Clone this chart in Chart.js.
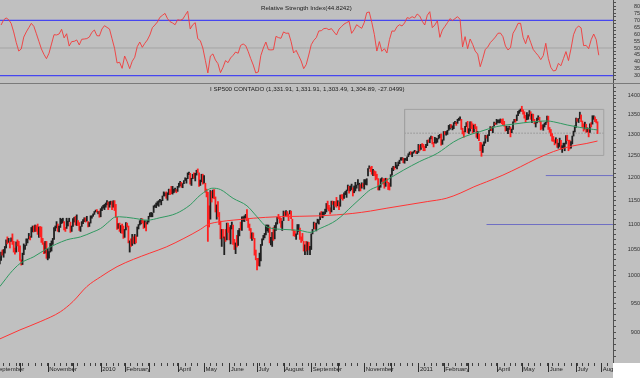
<!DOCTYPE html>
<html>
<head>
<meta charset="utf-8">
<script src="https://cdn.jsdelivr.net/npm/chart.js@4.4.1/dist/chart.umd.min.js"></script>
<style>
html,body{margin:0;padding:0;background:#c0c0c0;}
#wrap{position:relative;width:640px;height:378px;background:#c0c0c0;overflow:hidden;font-family:"Liberation Sans",Arial,sans-serif;}
canvas{position:absolute;left:0;}
#rsi{top:0;}
#sep{position:absolute;left:0;top:83px;width:640px;height:1px;background:#7a7a7a;}
#price{top:84px;}
#corner{position:absolute;left:613px;top:363px;width:27px;height:15px;background:#ffffff;}
.t{position:absolute;font-size:6.2px;line-height:6.2px;color:#202020;white-space:nowrap;}
</style>
</head>
<body>
<div id="wrap">
  <canvas id="rsi" width="640" height="83"></canvas>
  <div id="sep"></div>
  <canvas id="price" width="640" height="294"></canvas>
  <div id="corner"></div>
  <div class="t" style="left:261px;top:5.2px">Relative Strength Index(44.8242)</div>
  <div class="t" style="left:210px;top:86.4px">I SP500 CONTADO (1,331.91, 1,331.91, 1,303.49, 1,304.89, -27.0499)</div>
</div>
<script>
// ---------- trading calendar (day index 0 = 1 Sep 2009) ----------
const holidays = ['2009-09-07','2009-11-26','2009-12-25','2010-01-01','2010-01-18','2010-02-15','2010-04-02',
  '2010-05-31','2010-07-05','2010-09-06','2010-11-25','2010-12-24','2011-01-17','2011-02-21','2011-04-22',
  '2011-05-30','2011-07-04'];
const calendarStart = '2009-09-01';
const calendarEnd = '2011-08-15';

// month axis labels (January shows the year, some months unlabeled)
const monthNames = ['', 'February', '', 'April', 'May', 'June', 'July', 'August', 'September', '', 'November', ''];

// ---------- daily S&P 500 bars ----------
const closes = [
998,995,1003,1016,1025,1033,1044,1043,1049,1053,1069,1065,1068,1065,1072,1061,1051,1044,1063,1061,1057,
1030,1025,1040,1055,1058,1065,1071,1076,1073,1092,1097,1088,1098,1091,1081,1093,1080,1067,1063,1043,1066,1036,
1043,1045,1047,1067,1069,1093,1093,1099,1087,1093,1109,1110,1110,1095,1091,1106,1106,1111,1091,1096,
1109,1109,1100,1106,1103,1092,1096,1102,1106,1114,1108,1109,1096,1102,1114,1118,1121,1126,1128,1126,1126,1115,
1133,1137,1137,1142,1145,1147,1136,1146,1148,1136,1150,1138,1116,1092,1097,1092,1098,1085,1074,
1089,1103,1097,1063,1066,1057,1071,1068,1078,1076,1095,1100,1107,1109,1108,1095,1105,1103,1104,
1116,1118,1119,1123,1139,1139,1140,1146,1150,1150,1151,1159,1166,1166,1160,1166,1174,1168,1166,1167,1173,1173,1169,
1178,1187,1189,1182,1186,1194,1196,1197,1211,1212,1192,1198,1207,1206,1209,1217,1212,1184,1191,1207,1187,
1202,1174,1166,1128,1111,1160,1156,1172,1157,1136,1137,1121,1115,1072,1088,1074,1074,1068,1103,1089,
1071,1098,1103,1065,1050,1062,1056,1087,1092,1090,1115,1115,1116,1118,1113,1095,1092,1074,1077,1075,1041,1031,
1027,1023,1028,1060,1070,1078,1079,1095,1095,1096,1065,1071,1083,1070,1094,1103,1115,1114,1106,1102,1102,
1126,1120,1127,1126,1122,1128,1121,1089,1084,1079,1079,1093,1094,1076,1072,1067,1052,1055,1047,1065,1049,1049,
1080,1090,1105,1092,1099,1104,1110,1122,1121,1125,1125,1126,1143,1140,1134,1125,1149,1142,1148,1145,1141,
1146,1137,1161,1160,1158,1165,1165,1170,1178,1174,1176,1185,1166,1178,1180,1183,1186,1186,1182,1184,1183,
1184,1194,1198,1221,1226,1223,1213,1219,1214,1199,1198,1178,1179,1197,1200,1198,1181,1198,1189,1188,1181,
1206,1222,1225,1223,1224,1228,1233,1240,1240,1242,1235,1243,1244,1247,1255,1259,1257,1258,1259,1260,1258,1258,
1272,1270,1277,1274,1272,1270,1274,1286,1284,1293,1295,1282,1280,1283,1291,1291,1297,1300,1276,1286,
1308,1304,1307,1311,1319,1325,1321,1322,1329,1332,1328,1336,1340,1343,1315,1307,1306,1320,1327,
1306,1308,1331,1321,1310,1322,1320,1295,1304,1296,1282,1257,1274,1279,1298,1294,1298,1310,1314,1310,1319,1328,1326,
1332,1333,1333,1336,1334,1328,1324,1314,1314,1315,1320,1305,1313,1330,1337,1335,1347,1356,1360,1364,
1361,1357,1347,1335,1340,1346,1357,1342,1349,1338,1329,1329,1341,1344,1333,1317,1316,1320,1326,1331,1345,
1315,1313,1300,1286,1285,1280,1289,1271,1272,1288,1265,1268,1272,1278,1296,1287,1284,1268,1280,1297,1307,1321,
1340,1338,1339,1353,1344,1319,1314,1318,1309,1316,1305,1327,1326,1344,1345,1337,1332,1305];

const highs = [
1029,1003,1004,1018,1026,1036,1045,1049,1050,1056,1069,1075,1072,1066,1073,1081,1066,1053,1065,1069,1066,
1057,1030,1043,1061,1058,1071,1071,1082,1076,1094,1097,1097,1099,1098,1101,1095,1096,1095,1072,1063,1066,1066,
1052,1046,1062,1067,1072,1094,1097,1106,1101,1097,1113,1111,1113,1106,1094,1113,1107,1113,1105,1097,
1112,1115,1117,1120,1108,1104,1096,1106,1110,1114,1114,1117,1106,1104,1118,1118,1122,1127,1130,1131,1127,1128,
1133,1137,1140,1142,1145,1150,1147,1148,1149,1148,1150,1150,1142,1115,1102,1103,1098,1101,1097,
1090,1104,1103,1097,1067,1071,1080,1075,1080,1077,1095,1100,1108,1112,1112,1108,1108,1104,1108,
1117,1124,1125,1124,1139,1141,1145,1148,1150,1153,1151,1160,1169,1167,1169,1167,1175,1174,1181,1181,1175,1177,1174,
1181,1188,1192,1190,1187,1194,1200,1199,1211,1213,1210,1199,1208,1211,1210,1217,1220,1211,1195,1208,1208,
1205,1188,1175,1168,1139,1172,1170,1173,1174,1158,1141,1148,1125,1107,1090,1090,1075,1090,1103,1103,
1094,1098,1105,1099,1070,1063,1078,1088,1092,1105,1116,1116,1118,1121,1131,1113,1101,1092,1083,1083,1072,1049,
1033,1033,1043,1060,1071,1078,1082,1099,1099,1099,1095,1074,1084,1094,1098,1104,1115,1121,1116,1113,1107,
1128,1126,1129,1127,1122,1129,1128,1111,1089,1087,1081,1100,1100,1093,1075,1082,1066,1059,1066,1065,1064,1056,
1081,1090,1105,1103,1103,1111,1110,1124,1127,1126,1126,1132,1144,1149,1140,1135,1149,1149,1148,1148,1157,
1150,1147,1162,1163,1163,1167,1170,1173,1184,1181,1182,1186,1178,1182,1190,1184,1196,1188,1185,1189,1187,
1196,1196,1198,1221,1227,1224,1226,1219,1216,1214,1208,1198,1183,1198,1200,1198,1198,1199,1198,1190,1188,
1207,1222,1226,1225,1235,1229,1236,1240,1246,1246,1245,1244,1244,1248,1255,1259,1260,1258,1260,1263,1261,1260,
1277,1275,1277,1279,1277,1272,1277,1287,1288,1293,1297,1296,1282,1294,1292,1291,1299,1301,1302,1288,
1308,1308,1308,1311,1323,1325,1325,1322,1330,1333,1331,1338,1341,1344,1338,1316,1309,1321,1330,
1333,1315,1332,1332,1327,1324,1326,1320,1308,1302,1282,1281,1276,1283,1299,1298,1300,1311,1320,1319,1320,1331,1329,
1338,1336,1337,1339,1338,1339,1333,1321,1321,1316,1321,1319,1314,1332,1338,1338,1349,1358,1361,1364,
1371,1362,1357,1348,1355,1350,1360,1357,1351,1351,1338,1330,1341,1347,1343,1333,1324,1325,1329,1331,1346,
1346,1318,1313,1303,1296,1288,1293,1289,1280,1292,1287,1274,1280,1280,1298,1299,1287,1287,1284,1297,1309,1322,
1341,1340,1340,1356,1349,1334,1327,1331,1326,1317,1316,1327,1330,1347,1347,1344,1338,1332];

const lows = [
996,992,993,1001,1018,1022,1029,1039,1035,1043,1053,1061,1064,1053,1066,1060,1045,1041,1045,1057,1046,
1029,1020,1021,1040,1050,1058,1063,1071,1069,1074,1085,1085,1086,1086,1080,1074,1075,1064,1060,1042,1043,1033,
1030,1033,1045,1047,1060,1070,1087,1093,1086,1085,1094,1102,1104,1089,1086,1092,1097,1106,1084,1086,
1096,1105,1099,1098,1098,1088,1086,1096,1102,1106,1105,1107,1095,1096,1103,1113,1117,1121,1126,1126,1122,1115,
1116,1129,1134,1131,1136,1141,1131,1136,1142,1131,1136,1129,1115,1090,1092,1086,1083,1082,1072,
1074,1089,1095,1063,1045,1056,1058,1062,1061,1063,1076,1091,1099,1101,1103,1092,1094,1087,1101,
1105,1116,1116,1116,1125,1136,1135,1140,1138,1147,1141,1150,1160,1160,1155,1151,1163,1163,1165,1164,1167,1170,1167,
1170,1179,1182,1179,1178,1187,1194,1188,1198,1207,1186,1183,1198,1199,1193,1206,1212,1181,1183,1191,1186,
1188,1168,1158,1066,1095,1111,1147,1156,1154,1126,1111,1116,1100,1071,1056,1073,1040,1066,1069,1084,
1069,1061,1091,1060,1050,1042,1055,1058,1077,1089,1088,1107,1106,1113,1108,1094,1088,1072,1068,1071,1039,1030,
1011,1019,1018,1028,1058,1069,1073,1079,1087,1084,1063,1059,1056,1068,1071,1088,1101,1112,1103,1094,1088,
1108,1117,1119,1116,1108,1122,1112,1088,1077,1076,1070,1080,1086,1070,1064,1067,1047,1040,1047,1040,1049,1040,
1050,1081,1091,1091,1087,1103,1101,1110,1115,1114,1118,1122,1126,1132,1128,1122,1126,1142,1131,1138,1136,
1139,1131,1138,1154,1151,1155,1163,1157,1172,1166,1171,1174,1160,1167,1171,1177,1184,1171,1171,1177,1180,
1175,1185,1184,1204,1221,1214,1208,1205,1205,1195,1197,1173,1173,1179,1192,1186,1177,1181,1189,1174,1173,
1181,1206,1216,1219,1223,1220,1227,1232,1240,1240,1234,1233,1240,1239,1248,1253,1254,1248,1256,1259,1256,1255,
1258,1262,1265,1270,1262,1262,1269,1274,1282,1281,1290,1278,1271,1280,1280,1282,1290,1293,1275,1277,
1287,1301,1299,1301,1311,1314,1317,1312,1315,1327,1323,1328,1335,1336,1313,1302,1294,1307,1320,
1305,1303,1309,1315,1304,1307,1315,1294,1291,1286,1262,1249,1258,1274,1280,1292,1284,1298,1310,1310,1305,1321,1325,
1326,1330,1329,1330,1327,1325,1321,1309,1310,1303,1313,1295,1305,1313,1331,1331,1335,1347,1353,1358,
1358,1351,1341,1330,1337,1338,1346,1338,1330,1335,1327,1319,1329,1337,1331,1312,1315,1311,1319,1325,1331,
1313,1306,1297,1285,1284,1276,1280,1270,1268,1272,1265,1258,1268,1262,1278,1286,1262,1266,1268,1278,1297,1307,
1318,1333,1330,1340,1332,1318,1309,1314,1306,1307,1295,1306,1319,1326,1338,1332,1329,1303];

const sma50Days   = [5,10,13,21,32,42,58,69,79,85,92,96,100,111,122,132,145,156,164,174,180,190,201,209,217,230,243,251,259,272,285,293,299,304,312,325,338,352,365,373,386,399,412,428,439,444,455,465,476,479];
const sma50Values = [980,995,1004,1023,1036,1051,1069,1075,1085,1092,1107,1115,1116,1113,1109,1114,1123,1141,1162,1177,1174,1155,1139,1116,1095,1090,1088,1084,1092,1109,1140,1160,1174,1180,1195,1217,1237,1256,1283,1295,1308,1320,1326,1332,1334,1332,1324,1318,1313,1312];
const sma200Days   = [5,21,37,53,63,74,85,98,111,124,137,151,164,170,180,190,206,225,243,259,272,285,299,312,328,344,359,370,381,391,404,418,431,444,457,470,479];
const sma200Values = [889,904,918,935,953,980,998,1017,1031,1043,1055,1072,1090,1100,1106,1109,1113,1116,1117,1118,1120,1123,1128,1134,1141,1148,1155,1166,1180,1191,1206,1225,1244,1260,1272,1279,1285];

// ---------- RSI (one reading every 2 trading days, first at day 6) ----------
const rsiFirstDay = 6;
const rsiStep = 2;
const rsiValues = [
66.6,70.2,71.7,70.5,67.7,61.6,54.1,47.8,49.3,57.9,61.6,64.7,67.8,65.6,60.3,54.8,49.3,45.4,42.3,46.2,
52.9,59.6,59.4,60.1,63.5,57.3,60.3,51.4,54.6,54.8,55.8,52.2,56.3,56.5,56.8,57.9,61.3,63.0,58.9,58.7,
63.7,66.1,64.9,63.7,56.7,49.8,39.2,39.7,35.3,44.2,40.1,35.1,40.4,43.3,51.0,54.3,50.5,53.4,55.8,59.4,
64.7,66.6,68.8,72.2,73.6,75.0,71.2,69.0,68.1,66.8,70.4,70.0,70.7,73.6,76.5,63.7,66.8,68.3,56.7,55.3,
50.0,41.1,32.0,44.2,45.7,41.3,38.7,32.2,36.0,40.9,39.4,42.8,44.7,47.1,46.2,51.9,52.9,51.7,47.4,42.3,
37.7,32.0,32.7,44.5,50.0,54.3,48.8,48.6,48.8,58.4,57.5,57.0,61.6,60.6,60.8,54.6,46.4,48.3,44.5,40.6,
35.1,38.0,44.9,52.4,55.5,57.5,62.3,62.5,64.0,64.2,63.2,64.0,61.6,59.4,63.7,65.4,67.3,68.3,69.3,60.6,
63.2,66.8,65.4,64.2,68.3,75.5,76.0,68.5,59.9,47.8,54.6,47.6,49.5,46.4,56.0,62.3,62.1,65.4,66.8,65.9,
68.1,71.9,71.4,72.6,71.7,74.5,73.1,69.3,66.6,73.6,76.2,64.7,66.6,69.7,57.7,63.0,65.6,68.3,71.2,69.8,
71.2,72.6,70.7,50.7,58.2,49.5,56.5,52.6,47.8,45.6,36.5,42.3,49.0,50.7,53.9,55.8,57.9,60.6,60.8,58.2,
51.4,48.6,50.2,60.6,63.7,67.8,67.8,57.7,53.1,59.2,54.1,49.0,46.6,44.5,41.6,44.5,53.4,42.5,36.0,33.4,
33.9,38.9,37.2,42.3,47.4,40.9,49.5,59.6,64.0,65.9,64.5,51.7,51.9,49.5,56.0,60.1,56.0,44.8];
const rsiLevels = [70, 50, 30];

// ---------- axis tick labels ----------
const priceTickLabels = [900, 950, 1000, 1050, 1100, 1150, 1200, 1250, 1300, 1350, 1400];
const rsiTickLabels = [30, 35, 40, 45, 50, 55, 60, 65, 70, 75, 80];

// ---------- drawn reference lines ----------
const boxDays = [326, 484];
const boxLevels = [1251, 1363];
const boxMidLevel = 1304;
const supportLevels = [1205, 1100];
const supportFromDays = [438, 391];

// ---------- axis range ----------
const X_MIN = 5.15, X_MAX = 491.3;

// ================= build =================
Chart.defaults.font.family = "'Liberation Sans', Arial, sans-serif";
Chart.defaults.animation = false;

function buildCalendar() {
  const out = [];
  const d = new Date(calendarStart + 'T12:00:00Z');
  const end = new Date(calendarEnd + 'T12:00:00Z');
  while (d <= end) {
    const wd = d.getUTCDay();
    const iso = d.toISOString().slice(0, 10);
    if (wd !== 0 && wd !== 6 && !holidays.includes(iso)) {
      out.push({ year: d.getUTCFullYear(), month: d.getUTCMonth(), wd });
    }
    d.setUTCDate(d.getUTCDate() + 1);
  }
  return out;
}
const cal = buildCalendar();
const monthStarts = [];
const weekStarts = [];
cal.forEach((c, i) => {
  if (i === 0 || c.month !== cal[i - 1].month) monthStarts.push(i);
  if (i === 0 || c.wd < cal[i - 1].wd) weekStarts.push(i);
});
const monthLabelOf = {};
monthStarts.forEach(i => {
  const c = cal[i];
  monthLabelOf[i] = c.month === 0 ? String(c.year) : monthNames[c.month];
});
const xTickValues = Array.from(new Set([...weekStarts, ...monthStarts]))
  .filter(v => v <= X_MAX).sort((a, b) => a - b);

const pairs = (xs, ys) => xs.map((x, i) => ({ x, y: ys[i] }));

// --- RSI chart ---
const rsiPoints = rsiValues.map((v, i) => ({ x: rsiFirstDay + i * rsiStep, y: v }));
const rsiMinor = [];
for (let v = 27.5; v <= 82.5; v += 2.5) rsiMinor.push(v);

new Chart(document.getElementById('rsi'), {
  type: 'line',
  data: {
    datasets: [
      { data: rsiPoints, borderColor: '#f23a3a', borderWidth: 0.9, pointRadius: 0, tension: 0, order: 0 },
      { data: [{ x: X_MIN, y: rsiLevels[0] }, { x: X_MAX, y: rsiLevels[0] }], borderColor: '#4646f0', borderWidth: 1.2, pointRadius: 0, order: 1 },
      { data: [{ x: X_MIN, y: rsiLevels[1] }, { x: X_MAX, y: rsiLevels[1] }], borderColor: '#a4a4a4', borderWidth: 1, pointRadius: 0, order: 1 },
      { data: [{ x: X_MIN, y: rsiLevels[2] }, { x: X_MAX, y: rsiLevels[2] }], borderColor: '#4646f0', borderWidth: 1.2, pointRadius: 0, order: 1 }
    ]
  },
  options: {
    responsive: false, devicePixelRatio: 1, animation: false,
    layout: { padding: 0 },
    plugins: { legend: { display: false }, tooltip: { enabled: false } },
    scales: {
      x: { type: 'linear', min: X_MIN, max: X_MAX, display: false, offset: false },
      y: {
        position: 'right', min: 24.73, max: 84.65,
        afterBuildTicks: s => { s.ticks = rsiMinor.map(v => ({ value: v })); },
        afterFit: s => { s.width = 27; s.paddingTop = 0; s.paddingBottom = 0; },
        ticks: {
          autoSkip: false, padding: 0, crossAlign: 'far', color: '#303030',
          font: { size: 5.5 },
          callback: v => rsiTickLabels.includes(v) ? String(v) : ''
        },
        grid: { drawOnChartArea: false, tickLength: 3, tickColor: '#505050' },
        border: { display: true, color: '#505050' }
      }
    }
  }
});

// --- price chart ---
const bars = closes.map((c, i) => ({ x: i, y: [lows[i], highs[i]] }));
const barColors = closes.map((c, i) => (i === 0 || c >= closes[i - 1]) ? '#202020' : '#ff2020');
const priceMinor = [];
for (let v = 850; v <= 1420; v += 10) priceMinor.push(v);

const monthTickPlugin = {
  id: 'monthTicks',
  afterDraw(chart) {
    const xs = chart.scales.x, ctx = chart.ctx, b = chart.chartArea.bottom;
    ctx.save();
    ctx.strokeStyle = '#303030';
    ctx.lineWidth = 1;
    monthStarts.forEach(i => {
      if (i > X_MAX) return;
      const px = Math.round(xs.getPixelForValue(i)) + 0.5;
      ctx.beginPath(); ctx.moveTo(px, b); ctx.lineTo(px, b + 9); ctx.stroke();
    });
    ctx.restore();
  }
};

new Chart(document.getElementById('price'), {
  type: 'bar',
  data: {
    datasets: [
      { type: 'line', data: pairs(sma50Days, sma50Values), borderColor: '#2f9960', borderWidth: 1, pointRadius: 0, cubicInterpolationMode: 'monotone', order: 0 },
      { type: 'line', data: pairs(sma200Days, sma200Values), borderColor: '#ff3434', borderWidth: 1, pointRadius: 0, cubicInterpolationMode: 'monotone', order: 1 },
      { type: 'bar', data: bars, backgroundColor: barColors, barThickness: 1.15, grouped: false, borderWidth: 0, order: 2 },
      { type: 'line', data: [{ x: boxDays[0], y: boxLevels[0] }, { x: boxDays[1], y: boxLevels[0] }, { x: boxDays[1], y: boxLevels[1] }, { x: boxDays[0], y: boxLevels[1] }, { x: boxDays[0], y: boxLevels[0] }],
        borderColor: '#a2a2a2', borderWidth: 1, pointRadius: 0, order: 3 },
      { type: 'line', data: [{ x: boxDays[0], y: boxMidLevel }, { x: boxDays[1], y: boxMidLevel }], borderColor: '#7c7c7c', borderDash: [1, 2], borderWidth: 1, pointRadius: 0, order: 3 },
      { type: 'line', data: [{ x: supportFromDays[0], y: supportLevels[0] }, { x: X_MAX, y: supportLevels[0] }], borderColor: '#6e6ec4', borderWidth: 1, pointRadius: 0, order: 3 },
      { type: 'line', data: [{ x: supportFromDays[1], y: supportLevels[1] }, { x: X_MAX, y: supportLevels[1] }], borderColor: '#6e6ec4', borderWidth: 1, pointRadius: 0, order: 3 }
    ]
  },
  options: {
    responsive: false, devicePixelRatio: 1, animation: false,
    layout: { padding: 0 },
    plugins: { legend: { display: false }, tooltip: { enabled: false } },
    scales: {
      x: {
        type: 'linear', min: X_MIN, max: X_MAX, offset: false,
        afterBuildTicks: s => { s.ticks = xTickValues.map(v => ({ value: v })); },
        afterFit: s => { s.height = 15; s.paddingLeft = 0; s.paddingRight = 0; },
        ticks: {
          autoSkip: false, maxRotation: 0, minRotation: 0, align: 'start', labelOffset: 1.5, padding: 0,
          color: '#1e1e1e', font: { size: 6 },
          callback: v => monthLabelOf[v] || ''
        },
        grid: { drawOnChartArea: false, offset: false, tickLength: 3, tickColor: '#404040' },
        border: { display: false }
      },
      y: {
        type: 'logarithmic', position: 'right', min: 850, max: 1429, bounds: 'data',
        afterBuildTicks: s => { s.ticks = priceMinor.map(v => ({ value: v })); },
        afterFit: s => { s.width = 27; s.paddingTop = 0; s.paddingBottom = 0; },
        ticks: {
          autoSkip: false, padding: 0, crossAlign: 'far', color: '#303030',
          font: { size: 5.5 },
          callback: v => priceTickLabels.includes(v) ? String(v) : ''
        },
        grid: { drawOnChartArea: false, tickLength: 3, tickColor: '#505050' },
        border: { display: true, color: '#505050' }
      }
    }
  },
  plugins: [monthTickPlugin]
});
</script>
</body>
</html>
